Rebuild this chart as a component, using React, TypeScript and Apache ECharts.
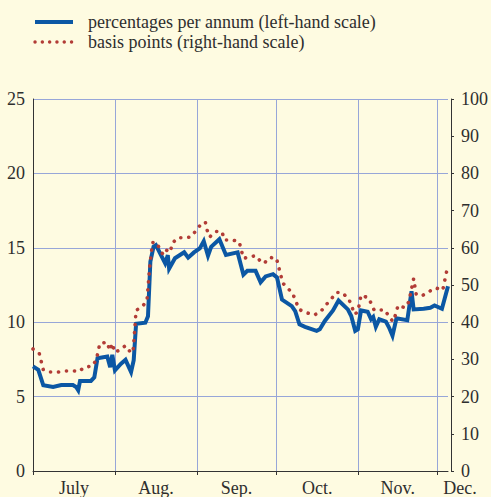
import React, { useEffect, useRef } from "react";
import * as echarts from "echarts";

const monthStarts = [0, 31, 62, 92, 123, 153];
const monthMids = [15.5, 46.5, 77, 107.5, 138, 157];
const monthLabels = ["July", "Aug.", "Sep.", "Oct.", "Nov.", "Dec."];

const leftTicks = [0, 5, 10, 15, 20, 25];
const rightTicks = [0, 10, 20, 30, 40, 50, 60, 70, 80, 90, 100];

const rateName = "percentages per annum (left-hand scale)";
const bpName = "basis points (right-hand scale)";

const rateDays = [
  0, 2.0, 3.9, 7.6, 10.7, 15.1, 16.3, 17.1, 17.8, 21.9, 23.2, 24.4, 28.1, 29.2, 30.0, 31.0,
  33.2, 35.0, 37.1, 38.1, 39.0, 42.5, 43.5, 44.4, 45.6, 46.5, 50.0, 51.0, 51.5, 53.7, 57.2,
  58.7, 60.9, 63.1, 64.6, 66.2, 67.4, 70.5, 73.0, 77.4, 79.6, 81.1, 84.2, 86.1, 88.0, 90.8,
  92.3, 94.2, 97.9, 99.2, 100.8, 102.9, 107.3, 108.5, 110.4, 113.5, 115.6, 119.1, 120.4,
  121.9, 122.9, 124.1, 126.6, 127.9, 128.7, 129.7, 131.0, 133.5, 134.7, 136.0, 137.5, 141.6,
  143.2, 144.0, 147.8, 150.3, 151.9, 154.7, 157.0,
];
const rateValues = [
  7.03, 6.8, 5.76, 5.65, 5.78, 5.78, 5.65, 5.43, 6.05, 6.05, 6.3, 7.58, 7.69, 6.98, 7.8, 6.76,
  7.2, 7.47, 6.65, 7.45, 9.9, 9.97, 10.4, 14.07, 15.07, 15.18, 13.96, 14.5, 13.6, 14.3, 14.7,
  14.34, 14.69, 14.96, 15.45, 14.47, 15.07, 15.58, 14.52, 14.69, 13.19, 13.45, 13.45, 12.68,
  13.08, 13.23, 13.01, 11.52, 11.08, 10.75, 9.86, 9.69, 9.42, 9.53, 10.08, 10.79, 11.46,
  10.86, 10.42, 9.42, 9.53, 10.79, 10.7, 10.2, 10.35, 9.69, 10.2, 10.04, 9.64, 9.09, 10.26,
  10.13, 12.08, 10.86, 10.9, 10.97, 11.12, 10.9, 12.41,
];

const bpDays = [
  0, 2.4, 3.9, 6.6, 9.5, 12.6, 15.7, 17.3, 19.4, 22.5, 24.0, 25.3, 28.1, 29.0, 30.0, 30.9,
  32.5, 35.0, 36.9, 37.8, 38.1, 39.0, 41.2, 43.1, 44.1, 45.2, 46.8, 48.1, 49.3, 50.4, 51.9,
  52.7, 54.7, 57.5, 59.7, 61.8, 63.7, 65.2, 65.9, 66.8, 69.3, 71.5, 72.4, 75.5, 78.0, 79.6,
  81.4, 84.2, 85.9, 87.4, 89.5, 92.1, 94.5, 96.1, 98.3, 100.7, 103.3, 106.3, 108.8, 110.8,
  112.9, 114.8, 116.9, 119.4, 120.6, 121.6, 122.9, 124.1, 127.0, 129.1, 133.2, 134.7, 136.2,
  137.2, 138.1, 140.7, 142.2, 144.0, 145.0, 147.4, 150.0, 152.4, 155.0, 157.0,
];
const bpValues = [
  32.8, 31.5, 27.2, 26.6, 26.6, 26.9, 26.9, 26.7, 27.9, 28.2, 30.0, 34.3, 34.6, 32.4, 34.3,
  31.9, 32.4, 33.7, 31.9, 31.9, 34.3, 43.2, 44.1, 45.7, 54.5, 61.4, 61.4, 59.4, 58.1, 59.4,
  58.8, 61.2, 62.7, 62.7, 62.9, 64.7, 66.5, 66.9, 64.7, 62.9, 64.4, 64.3, 62.1, 62.1, 61.6,
  57.2, 57.4, 57.9, 56.5, 55.8, 57.4, 57.2, 50.5, 49.4, 47.6, 43.4, 42.6, 41.9, 42.8, 44.6,
  46.3, 48.0, 48.0, 46.3, 44.3, 42.1, 42.8, 47.3, 46.5, 43.2, 43.3, 41.4, 40.2, 42.1, 44.5,
  43.9, 45.5, 51.7, 47.4, 47.2, 48.3, 49.2, 48.6, 55.4,
];

const BG = "#FEFBE1";
const TEXT = "#2e2e2e";
const AXIS = "#333333";
const GRID = "#97A6D8";
const BLUE = "#0B57A4";
const RED = "#B23C36";
const FONT = "Liberation Serif";
const FS = 18;
const DOTS = [0.1, 7.9];
const LEGEND_DOTS = [0.1, 7.2];

export default function App() {
  const ref = useRef<HTMLDivElement>(null);
  useEffect(() => {
    if (!ref.current) return;
    const chart = echarts.init(ref.current, null, { renderer: "svg" });
    const rateData = rateDays.map((d, i) => [d, rateValues[i]]);
    const bpData = bpDays.map((d, i) => [d, bpValues[i]]);
    chart.setOption({
      animation: false,
      backgroundColor: BG,
      textStyle: { fontFamily: FONT },
      legend: {
        orient: "vertical",
        left: 33,
        top: 13,
        padding: 0,
        itemWidth: 38,
        itemHeight: 14,
        itemGap: 2,
        selectedMode: false,
        itemStyle: { opacity: 0 },
        data: [
          { name: rateName, lineStyle: { color: BLUE, width: 4, type: "solid" } },
          { name: bpName, lineStyle: { color: RED, width: 3.4, type: LEGEND_DOTS, cap: "round" } },
        ],
        textStyle: { fontFamily: FONT, fontSize: FS, color: TEXT, padding: [0, 0, 0, 10] },
      },
      grid: { left: 33, top: 99, width: 420, height: 375, containLabel: false },
      xAxis: {
        type: "value",
        min: 0,
        max: 157,
        axisLine: { show: true, lineStyle: { color: AXIS, width: 1 } },
        axisTick: { show: true, customValues: monthStarts, length: 4, inside: false, lineStyle: { color: AXIS } },
        splitLine: { show: true, lineStyle: { color: GRID, width: 1 } },
        axisLabel: {
          customValues: monthMids,
          margin: 8,
          fontFamily: FONT,
          fontSize: FS,
          color: TEXT,
          formatter: (v: number) => {
            const i = monthMids.indexOf(v);
            if (i < 0) return "";
            if (i === monthMids.length - 1) return "{dec|" + monthLabels[i] + "}";
            return monthLabels[i];
          },
          rich: { dec: { fontFamily: FONT, fontSize: FS, color: TEXT, padding: [0, 0, 0, 24] } },
        },
      },
      yAxis: [
        {
          type: "value",
          position: "left",
          min: leftTicks[0],
          max: leftTicks[leftTicks.length - 1],
          interval: 5,
          axisLine: { show: true, lineStyle: { color: AXIS, width: 1 } },
          axisTick: { show: false },
          splitLine: { show: true, lineStyle: { color: GRID, width: 1 } },
          axisLabel: { margin: 8, fontFamily: FONT, fontSize: FS, lineHeight: 14, color: TEXT, padding: [0, 0, 4, 0] },
        },
        {
          type: "value",
          position: "right",
          offset: 3,
          min: rightTicks[0],
          max: rightTicks[rightTicks.length - 1],
          interval: 10,
          axisLine: { show: true, lineStyle: { color: AXIS, width: 1 } },
          axisTick: { show: true, length: 3, inside: false, lineStyle: { color: AXIS } },
          splitLine: { show: false },
          axisLabel: { margin: 10, fontFamily: FONT, fontSize: FS, lineHeight: 14, color: TEXT, padding: [0, 0, 4, 0] },
        },
      ],
      series: [
        {
          name: rateName,
          type: "line",
          yAxisIndex: 0,
          data: rateData,
          symbol: "none",
          lineStyle: { color: BLUE, width: 4, join: "miter" },
          itemStyle: { color: BLUE },
          z: 2,
        },
        {
          name: bpName,
          type: "line",
          yAxisIndex: 1,
          data: bpData,
          symbol: "none",
          lineStyle: { color: RED, width: 3.6, type: DOTS, cap: "round" },
          itemStyle: { color: RED },
          z: 3,
        },
      ],
    });
    return () => chart.dispose();
  }, []);
  return (
    <div style={{ position: "fixed", left: 0, top: 0, width: 491, height: 497, background: BG }}>
      <div ref={ref} style={{ width: 491, height: 497 }} />
    </div>
  );
}
